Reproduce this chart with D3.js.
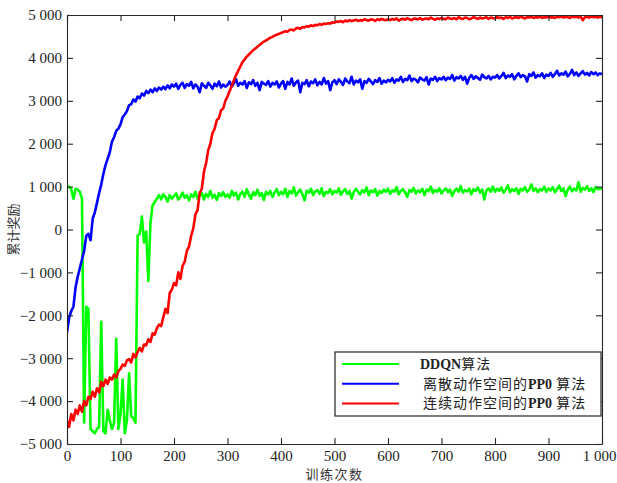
<!DOCTYPE html>
<html>
<head>
<meta charset="utf-8">
<script src="https://cdn.jsdelivr.net/npm/d3@7"></script>
<style>
  body { margin: 0; background: #fff; }
  svg text { font-family: "Liberation Serif", "Times New Roman", serif; }
</style>
</head>
<body>
<div id="chart"></div>
<script>
// training episodes, sampled every 4 episodes
const episodes = d3.range(0, 1001, 4);

// DDQN算法
const ddqn = [
  980, 1000, 940, 720, 950, 930, 880, 720, -4500, -1800, -1850, -4650, -4700, -4750, -4650, -4600, -2150, -4700, -4750, -4200, -4450, -4650, -4500, -2550, -4650,
  -4300, -3500, -4750, -4450, -3350, -4350, -4400, -4500, -150, -100, 300, -300, -50, -1200, 150, 560, 640, 720, 800, 700, 820, 760, 650, 800, 720,
  780, 840, 700, 760, 860, 740, 800, 680, 820, 760, 880, 720, 790, 850, 700, 830, 760, 900, 740, 810, 690, 850, 780, 870, 760,
  820, 740, 900, 790, 860, 700, 830, 880, 760, 940, 810, 720, 870, 800, 930, 780, 850, 690, 880, 820, 900, 760, 860, 940, 800,
  880, 820, 950, 760, 900, 840, 980, 790, 870, 930, 820, 680, 900, 860, 950, 800, 890, 920, 830, 960, 780, 880, 850, 940, 820,
  900, 860, 960, 810, 890, 940, 830, 900, 720, 870, 950, 880, 820, 920, 860, 980, 800, 910, 870, 940, 790, 900, 850, 930, 880,
  950, 830, 910, 880, 990, 820, 900, 940, 860, 760, 920, 880, 970, 840, 910, 870, 950, 800, 930, 890, 1000, 850, 920, 880, 960,
  840, 910, 960, 870, 930, 780, 900, 950, 880, 1010, 860, 920, 890, 950, 820, 940, 900, 980, 860, 930, 700, 910, 960, 880, 1000,
  880, 950, 900, 980, 860, 920, 1030, 870, 940, 900, 960, 830, 950, 910, 990, 880, 930, 1050, 900, 960, 870, 940, 910, 1000, 880,
  960, 910, 990, 870, 940, 1020, 900, 960, 780, 930, 1000, 890, 950, 910, 1100, 880, 970, 930, 1010, 900, 960, 870, 990, 940, 960,
  950
];

// 离散动作空间的PPO算法
const ppoDiscrete = [
  -2400, -2050, -1900, -1800, -1350, -1100, -900, -700, -500, -150, -100, -250, 250, 400, 620, 850, 1050, 1300, 1500, 1650, 1800, 2050, 2150, 2300, 2350,
  2450, 2620, 2680, 2760, 2900, 2920, 3030, 2980, 3100, 3060, 3170, 3120, 3230, 3180, 3260, 3200, 3290, 3230, 3310, 3260, 3330, 3270, 3360, 3290, 3380,
  3330, 3400, 3280, 3370, 3420, 3300, 3390, 3350, 3440, 3290, 3380, 3330, 3200, 3410, 3350, 3300, 3420, 3360, 3280, 3400, 3340, 3450, 3310, 3380, 3330,
  3370, 3450, 3330, 3410, 3500, 3350, 3420, 3380, 3460, 3300, 3430, 3390, 3480, 3350, 3420, 3250, 3440, 3400, 3370, 3460, 3330, 3420, 3380, 3450, 3310,
  3400, 3460, 3280, 3440, 3380, 3520, 3350, 3430, 3470, 3200, 3420, 3390, 3480, 3340, 3450, 3410, 3500, 3360, 3440, 3380, 3530, 3400, 3460, 3250, 3430,
  3480, 3390, 3500, 3440, 3370, 3520, 3450, 3410, 3560, 3380, 3470, 3430, 3500, 3280, 3460, 3420, 3510, 3450, 3390, 3480, 3440, 3530, 3400, 3470, 3430,
  3490, 3450, 3530, 3420, 3500, 3470, 3560, 3440, 3510, 3480, 3590, 3460, 3520, 3490, 3430, 3540, 3500, 3470, 3550, 3380, 3520, 3490, 3560, 3460, 3530,
  3500, 3560, 3480, 3540, 3510, 3600, 3470, 3550, 3520, 3580, 3490, 3560, 3400, 3540, 3600, 3510, 3570, 3530, 3490, 3610, 3550, 3520, 3580, 3500, 3560,
  3540, 3600, 3520, 3580, 3650, 3530, 3590, 3560, 3620, 3500, 3580, 3640, 3550, 3600, 3570, 3450, 3620, 3580, 3660, 3540, 3600, 3570, 3640, 3530, 3610,
  3580, 3650, 3560, 3620, 3700, 3590, 3640, 3610, 3680, 3570, 3630, 3720, 3600, 3660, 3580, 3640, 3690, 3610, 3650, 3590, 3670, 3620, 3660, 3600, 3640,
  3620
];

// 连续动作空间的PPO算法
const ppoContinuous = [
  -4450, -4600, -4300, -4450, -4200, -4300, -4100, -4250, -4000, -4100, -3900, -3950, -3780, -3900, -3700, -3800, -3550, -3650, -3500, -3600, -3450, -3500, -3380, -3450, -3300,
  -3250, -3150, -3180, -3050, -3020, -3100, -2900, -2980, -2850, -2760, -2840, -2680, -2700, -2560, -2620, -2420, -2450, -2300, -2220, -2250, -2050, -1850, -1950, -1480, -1400,
  -1250, -1300, -1000, -1150, -850, -750, -500, -400, -150, 20, 350, 450, 850, 950, 1350, 1550, 1850, 2000, 2250, 2350, 2550, 2600, 2780, 2820, 3000,
  3100, 3230, 3350, 3480, 3600, 3700, 3800, 3900, 3960, 4030, 4080, 4130, 4180, 4220, 4260, 4300, 4340, 4380, 4410, 4440, 4470, 4490, 4520, 4540, 4560,
  4580, 4600, 4620, 4610, 4650, 4660, 4640, 4690, 4700, 4680, 4720, 4710, 4740, 4730, 4760, 4740, 4770, 4760, 4790, 4770, 4800, 4790, 4810, 4800, 4830,
  4820, 4850, 4840, 4860, 4830, 4870, 4850, 4880, 4860, 4870, 4890, 4860, 4880, 4870, 4900, 4880, 4870, 4900, 4890, 4860, 4900, 4880, 4910, 4890, 4880,
  4900, 4880, 4910, 4890, 4920, 4870, 4900, 4910, 4890, 4930, 4900, 4880, 4920, 4910, 4900, 4930, 4890, 4910, 4920, 4900, 4940, 4910, 4890, 4920, 4910,
  4930, 4910, 4900, 4940, 4920, 4910, 4930, 4900, 4950, 4920, 4910, 4940, 4930, 4900, 4920, 4950, 4930, 4910, 4940, 4920, 4930, 4950, 4910, 4940, 4930,
  4920, 4950, 4930, 4940, 4910, 4950, 4930, 4960, 4920, 4940, 4950, 4930, 4960, 4940, 4920, 4950, 4940, 4960, 4930, 4950, 4940, 4970, 4930, 4950, 4940,
  4960, 4940, 4950, 4930, 4960, 4950, 4970, 4940, 4960, 4950, 4930, 4970, 4950, 4960, 4940, 4970, 4880, 4950, 4960, 4940, 4970, 4950, 4960, 4940, 4960,
  4950
];

const xTicks = [0, 100, 200, 300, 400, 500, 600, 700, 800, 900, 1000];
const yTicks = [-5000, -4000, -3000, -2000, -1000, 0, 1000, 2000, 3000, 4000, 5000];
const legendNames = [["DDQN", "算法"], ["离散动作空间的", "PP0", " 算法"], ["连续动作空间的", "PP0", " 算法"]];
const colors = ["#00ff00", "#0000ff", "#ff0000"];

var width = 617, height = 483;
var plotLeft = 67, plotRight = 602, plotTop = 15, plotBottom = 444;

var loc = d3.formatLocale({decimal: ".", thousands: " ", grouping: [3], currency: ["", ""], minus: "\u2212"});
var fmt = loc.format(",");

var svg = d3.select("#chart").append("svg")
    .attr("width", width)
    .attr("height", height);

var x = d3.scaleLinear().domain([0, 1000]).range([plotLeft, plotRight]);
var y = d3.scaleLinear().domain([-5000, 5000]).range([plotBottom, plotTop]);

svg.append("clipPath").attr("id", "clip")
  .append("rect")
    .attr("x", plotLeft).attr("y", plotTop)
    .attr("width", plotRight - plotLeft).attr("height", plotBottom - plotTop);

// lines (green, blue, red - red ends up on top)
var allSeries = [ddqn, ppoDiscrete, ppoContinuous];
var line = d3.line()
    .x(function(d, i) { return x(episodes[i]); })
    .y(function(d) { return y(d); });

svg.append("g").attr("clip-path", "url(#clip)")
  .selectAll("path")
  .data(allSeries)
  .enter()
  .append("path")
    .attr("d", line)
    .attr("fill", "none")
    .attr("stroke", function(d, i) { return colors[i]; })
    .attr("stroke-width", 2.6)
    .attr("stroke-linejoin", "round");

// axes, ticks inward on all 4 sides
function styleAxis(g) {
  g.selectAll("path.domain").attr("stroke", "#262626").attr("stroke-width", 1.1);
  g.selectAll(".tick line").attr("stroke", "#262626").attr("stroke-width", 1.1);
  g.selectAll(".tick text")
    .attr("fill", "#222")
    .style("font-size", "15px")
    .style("font-family", "'Liberation Serif', 'Times New Roman', serif");
}

var xAxisG = svg.append("g")
    .attr("transform", "translate(0," + plotBottom + ")")
    .call(d3.axisBottom(x).tickValues(xTicks).tickFormat(fmt).tickSizeInner(-6).tickSizeOuter(0).tickPadding(6))
    .call(styleAxis);
// last label sits a bit left so it fits in the window
xAxisG.selectAll(".tick text").filter(function(d) { return d === 1000; }).attr("dx", -3);

svg.append("g")
    .attr("transform", "translate(" + plotLeft + ",0)")
    .call(d3.axisLeft(y).tickValues(yTicks).tickFormat(fmt).tickSizeInner(-6).tickSizeOuter(0).tickPadding(5))
    .call(styleAxis);

svg.append("g")
    .attr("transform", "translate(0," + plotTop + ")")
    .call(d3.axisTop(x).tickValues(xTicks).tickFormat("").tickSizeInner(-6).tickSizeOuter(0))
    .call(styleAxis);

svg.append("g")
    .attr("transform", "translate(" + plotRight + ",0)")
    .call(d3.axisRight(y).tickValues(yTicks).tickFormat("").tickSizeInner(-6).tickSizeOuter(0))
    .call(styleAxis);

// axis titles
svg.append("text")
    .attr("x", (plotLeft + plotRight) / 2)
    .attr("y", 479)
    .attr("text-anchor", "middle")
    .attr("fill", "#333")
    .style("font-family", "'Noto Sans CJK SC', sans-serif")
    .style("font-size", "13px")
    .style("letter-spacing", "1.5px")
    .text("训练次数");

svg.append("text")
    .attr("transform", "translate(18," + ((plotTop + plotBottom) / 2) + ") rotate(-90)")
    .attr("text-anchor", "middle")
    .attr("fill", "#333")
    .style("font-family", "'Noto Sans CJK SC', sans-serif")
    .style("font-size", "13px")
    .text("累计奖励");

// legend
var legend = svg.append("g");
legend.append("rect")
    .attr("x", 335).attr("y", 352)
    .attr("width", 266).attr("height", 64)
    .attr("fill", "#fff")
    .attr("stroke", "#333")
    .attr("stroke-width", 1.3);

var rows = legend.selectAll("g.item")
  .data(legendNames)
  .enter()
  .append("g")
    .attr("class", "item")
    .attr("transform", function(d, i) { return "translate(0," + (364 + i * 19.7) + ")"; });

rows.append("line")
    .attr("x1", 342).attr("x2", 399)
    .attr("y1", 0).attr("y2", 0)
    .attr("stroke", function(d, i) { return colors[i]; })
    .attr("stroke-width", 2);

var labels = rows.append("text")
    .attr("x", function(d, i) { return i === 0 ? 420 : 423; })
    .attr("y", 5)
    .attr("fill", "#222")
    .style("font-size", "14px");

labels.each(function(parts) {
  var t = d3.select(this);
  parts.forEach(function(p) {
    var latin = /^[A-Z0-9 ]+$/.test(p) && p.trim().length > 0;
    t.append("tspan")
      .text(p)
      .style("font-family", latin ? "'Liberation Serif', serif" : "'Noto Sans CJK SC', sans-serif")
      .style("font-weight", latin ? "bold" : "normal")
      .style("letter-spacing", latin ? "0px" : "1px");
  });
});
</script>
</body>
</html>
